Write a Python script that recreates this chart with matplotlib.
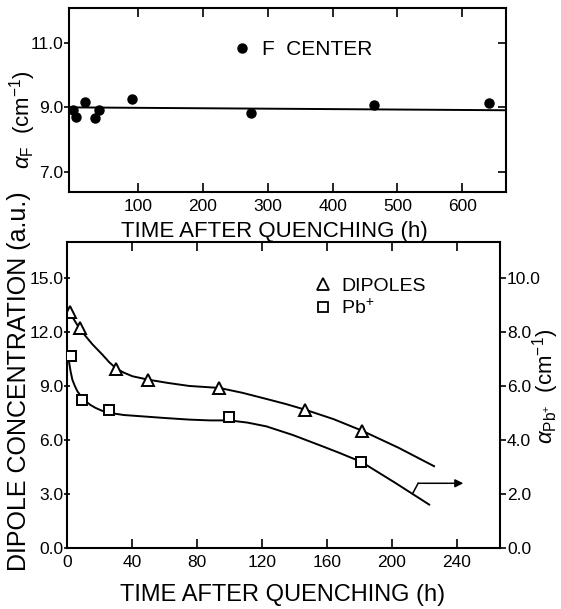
import matplotlib
matplotlib.use("Agg")
import matplotlib.pyplot as plt
from matplotlib.lines import Line2D

plt.rcParams['font.family'] = ['Liberation Sans', 'DejaVu Sans']
plt.rcParams['mathtext.fontset'] = 'custom'
plt.rcParams['mathtext.rm'] = 'Liberation Sans'
plt.rcParams['mathtext.it'] = 'Liberation Sans:italic'

# ---------------- data ----------------
# top panel: F center absorption vs time
f_time = [0, 4, 18, 34, 39, 90, 274, 464, 642]
f_alpha = [8.92, 8.70, 9.17, 8.66, 8.92, 9.26, 8.83, 9.07, 9.15]
f_fit_time = [-7, 668]
f_fit_alpha = [9.00, 8.91]
top_xticks = [100, 200, 300, 400, 500, 600]
top_yticks = [7.0, 9.0, 11.0]

# bottom panel: dipole concentration (left axis, a.u.)
dip_time = [1.6, 7.8, 30.4, 50, 93.8, 146.3, 181.5]
dip_conc = [13.07, 12.2, 9.94, 9.33, 8.87, 7.67, 6.5]
dip_fit_time = [1.6, 3, 4.3, 6, 7.8, 11, 15.6, 21.8, 26, 30.4, 35, 40.3, 50, 62,
                75.3, 93.8, 108, 122.7, 135, 146.3, 164, 181.5, 204, 226]
dip_fit_conc = [13.07, 12.85, 12.67, 12.42, 12.2, 11.8, 11.3, 10.72, 10.3, 9.94,
                9.72, 9.52, 9.33, 9.15, 8.98, 8.87, 8.6, 8.26, 7.97, 7.67, 7.14,
                6.5, 5.55, 4.52]

# bottom panel: Pb+ absorption (right axis, cm^-1)
pb_time = [2.3, 9.5, 26, 100, 181.3]
pb_alpha = [7.09, 5.45, 5.09, 4.83, 3.17]
pb_fit_time = [1.2, 2.2, 3.3, 4.8, 6.4, 9, 11.5, 14.5, 17.7, 21.5, 26, 35, 46.5,
               60, 75.3, 88, 100, 111, 122.7, 139, 155.6, 168, 181.3, 202, 223]
pb_fit_alpha = [6.90, 6.53, 6.22, 5.99, 5.79, 5.57, 5.42, 5.28, 5.17, 5.07, 4.99,
                4.91, 4.86, 4.80, 4.74, 4.71, 4.71, 4.63, 4.49, 4.17, 3.79, 3.50,
                3.17, 2.40, 1.59]

# arrow pointing to right axis (left-axis units)
arrow_stem_time = [212.8, 216.2]
arrow_stem_conc = [3.0, 3.57]
arrow_tip = (244, 3.57)

bot_xticks = [0, 40, 80, 120, 160, 200, 240]
left_yticks = [0.0, 3.0, 6.0, 9.0, 12.0, 15.0]
right_yticks = [0.0, 2.0, 4.0, 6.0, 8.0, 10.0]

W, H = 561, 609
fig = plt.figure(figsize=(W / 100, H / 100), dpi=100)

def rect(l, t, r, b):
    return [l / W, 1 - b / H, (r - l) / W, (b - t) / H]

LW = 1.4
SPW = 1.5
TICKFS = 12.5

# ---------------- top panel ----------------
ax1 = fig.add_axes(rect(69, 7.9, 506.3, 192.4))
ax1.set_xlim(-6.6, 668)
ax1.set_ylim(6.35, 12.1)
ax1.plot(f_fit_time, f_fit_alpha, color='k', lw=LW)
ax1.plot(f_time, f_alpha, 'o', color='k', ms=6.5)
ax1.set_xticks(top_xticks)
ax1.set_xticklabels([str(v) for v in top_xticks])
ax1.set_yticks(top_yticks)
ax1.set_yticklabels([f"{v:.1f}" for v in top_yticks])
ax1.tick_params(axis='x', direction='in', top=True, bottom=True, length=6.5,
                width=1.2, labelsize=TICKFS, pad=5)
ax1.tick_params(axis='y', direction='out', left=True, right=False, length=3.5,
                width=1.2, labelsize=TICKFS, pad=0.5)
for s in ax1.spines.values():
    s.set_linewidth(SPW)
ax1r = ax1.twinx()
ax1r.set_ylim(ax1.get_ylim())
ax1r.set_yticks(top_yticks)
ax1r.tick_params(axis='y', direction='in', length=6, width=1.2, labelright=False)
ax1r.spines[:].set_visible(False)

h_f = Line2D([], [], marker='o', ls='', color='k', ms=6.5)
ax1.legend([h_f], ['F  CENTER'], loc='center left',
           bbox_to_anchor=((233.5 - 69) / (506.3 - 69), (192.4 - 49.3) / (192.4 - 7.9)),
           frameon=False, fontsize=15, handlelength=0.8, handletextpad=0.55,
           borderpad=0, borderaxespad=0)

fig.text(23 / W, 1 - 120 / H, r'$\alpha_{\rm F}$  (cm$^{-1}$)', rotation=90,
         ha='center', va='center', fontsize=16)
fig.text(274.7 / W, 1 - 232 / H, 'TIME AFTER QUENCHING (h)', ha='center',
         va='center', fontsize=16)

# ---------------- bottom panel ----------------
ax2 = fig.add_axes(rect(67, 241.7, 500, 547.5))
ax2.set_xlim(0, 266.6)
ax2.set_ylim(0, 17.0)
ax2.plot(dip_fit_time, dip_fit_conc, color='k', lw=LW, solid_joinstyle='round')
ax2.plot(dip_time, dip_conc, '^', color='k', mfc='white', mew=1.4, ms=8.5)
ax2.plot(arrow_stem_time, arrow_stem_conc, color='k', lw=1.1)
ax2.annotate('', xy=arrow_tip, xytext=(arrow_stem_time[-1], arrow_stem_conc[-1]),
             arrowprops=dict(arrowstyle='-|>', color='k', lw=1.1,
                             mutation_scale=12, shrinkA=0, shrinkB=0))
ax2.set_xticks(bot_xticks)
ax2.set_xticklabels([str(v) for v in bot_xticks])
ax2.set_yticks(left_yticks)
ax2.set_yticklabels([f"{v:.1f}" for v in left_yticks])
ax2.tick_params(axis='x', direction='in', top=True, bottom=True, length=6.5,
                width=1.2, labelsize=TICKFS, pad=5.5)
ax2.tick_params(axis='y', direction='inout', left=True, right=False, length=5,
                width=1.2, labelsize=TICKFS, pad=0)
for s in ax2.spines.values():
    s.set_linewidth(SPW)

ax2r = ax2.twinx()
ax2r.set_ylim(0, 17.0 * 2 / 3)
ax2r.plot(pb_fit_time, pb_fit_alpha, color='k', lw=LW, solid_joinstyle='round')
ax2r.plot(pb_time, pb_alpha, 's', color='k', mfc='white', mew=1.4, ms=7)
ax2r.set_yticks(right_yticks)
ax2r.set_yticklabels([f"{v:.1f}" for v in right_yticks])
ax2r.tick_params(axis='y', direction='out', length=4, width=1.2,
                 labelsize=TICKFS, pad=1)
ax2r.spines[:].set_visible(False)

h_tri = Line2D([], [], marker='^', ls='', color='k', mfc='white', mew=1.3, ms=8)
h_sq = Line2D([], [], marker='s', ls='', color='k', mfc='white', mew=1.3, ms=6.5)
ax2r.legend([h_tri, h_sq], ['DIPOLES', 'Pb$^{+}$'], loc='center left',
            bbox_to_anchor=((315 - 67) / (500 - 67), (547.5 - 297.5) / (547.5 - 241.7)),
            frameon=False, fontsize=14, handlelength=0.8, handletextpad=0.55,
            labelspacing=0.15, borderpad=0, borderaxespad=0)

fig.text(19 / W, 1 - 381 / H, 'DIPOLE CONCENTRATION (a.u.)', rotation=90,
         ha='center', va='center', fontsize=18)
fig.text(546 / W, 1 - 386.7 / H, r'$\alpha_{\rm Pb^{+}}$  (cm$^{-1}$)', rotation=90,
         ha='center', va='center', fontsize=16)
fig.text(283 / W, 1 - 595 / H, 'TIME AFTER QUENCHING (h)', ha='center',
         va='center', fontsize=17)

fig.savefig('out.png', dpi=100)
